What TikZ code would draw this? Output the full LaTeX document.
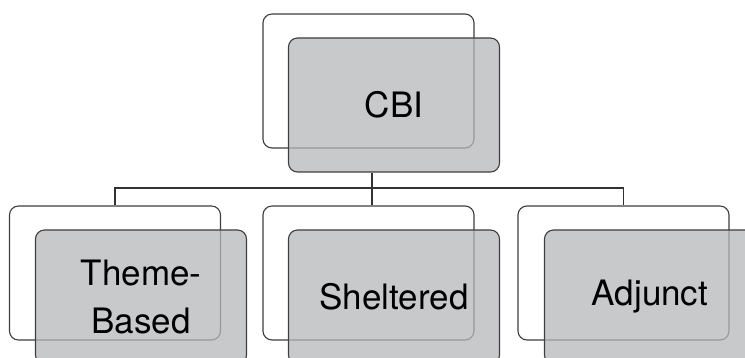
\documentclass[tikz,border=0pt]{standalone}
\usepackage{fontspec}
\setmainfont{TeX Gyre Heros}
\definecolor{boxline}{RGB}{62,62,62}
\definecolor{boxfill}{RGB}{182,183,186}
\definecolor{tree}{RGB}{50,50,50}
\begin{document}
\begin{tikzpicture}[x=1pt,y=-1pt,
  backbox/.style={draw=boxline,line width=1.1pt,rounded corners=9pt,
    minimum width=211pt,minimum height=134pt,inner sep=0pt},
  frontbox/.style={backbox,fill=boxfill,fill opacity=0.75,text opacity=1,
    font=\fontsize{35}{48}\selectfont,align=center,text=black},
  link/.style={draw=tree,line width=1.1pt}]
\useasboundingbox (0,0) rectangle (745,358);
\clip (0,0) rectangle (745,358);
% root
\node[backbox] (cbiback) at (368.5,81) {};
\node[frontbox] (cbi) at (394,105) {CBI};
% children
\node[backbox] (thmback) at (115,273) {};
\node[backbox] (shback) at (368.5,273) {};
\node[backbox] (adjback) at (623.5,273) {};
\coordinate (bar) at (372,188);
% tree connectors
\draw[link] (bar |- cbi.south) -- (bar);
\draw[link] (thmback.north) |- (bar) -| (adjback.north);
\draw[link] (bar) -- (bar |- shback.north);
\node[frontbox] (thm) at (141,297) {Theme-\\Based};
\node[frontbox] (sh) at (394,297) {Sheltered};
\node[frontbox] (adj) at (650,297) {Adjunct};
\end{tikzpicture}
\end{document}
